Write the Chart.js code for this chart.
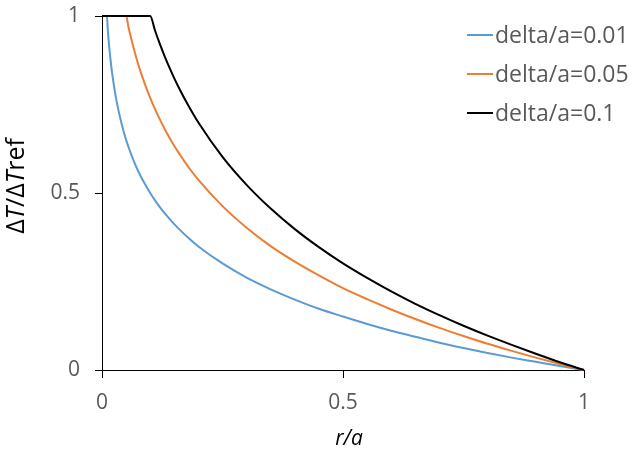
<!DOCTYPE html>
<html>
<head>
<meta charset="utf-8">
<script src="https://cdn.jsdelivr.net/npm/chart.js@4.4.1/dist/chart.umd.min.js"></script>
<style>
  html, body { margin: 0; padding: 0; background: #fff; }
  #wrap { width: 633px; height: 456px; }
</style>
</head>
<body>
<div id="wrap"><canvas id="chart"></canvas></div>
<script>
// r/a positions
const rOverA = [0, 0.01, 0.0125, 0.015, 0.02, 0.025, 0.03, 0.04, 0.05, 0.055, 0.06, 0.07, 0.08, 0.09,
  0.1, 0.11, 0.12, 0.13, 0.14, 0.15, 0.16, 0.18, 0.2, 0.25, 0.3, 0.35, 0.4, 0.45, 0.5,
  0.55, 0.6, 0.65, 0.7, 0.75, 0.8, 0.85, 0.9, 0.95, 1];

// dT/dTref for each delta/a
const delta001 = [1, 1, 0.952, 0.912, 0.849, 0.801, 0.761, 0.699, 0.650, 0.630, 0.611, 0.577, 0.548, 0.523,
  0.500, 0.479, 0.460, 0.443, 0.427, 0.412, 0.398, 0.372, 0.349, 0.301, 0.261, 0.228, 0.199, 0.173, 0.151,
  0.130, 0.111, 0.094, 0.077, 0.062, 0.048, 0.035, 0.023, 0.011, 0];
const delta005 = [1, 1, 1, 1, 1, 1, 1, 1, 1, 0.968, 0.939, 0.888, 0.843, 0.804,
  0.769, 0.737, 0.708, 0.681, 0.656, 0.633, 0.612, 0.572, 0.537, 0.463, 0.402, 0.350, 0.306, 0.267, 0.231,
  0.200, 0.171, 0.144, 0.119, 0.096, 0.074, 0.054, 0.035, 0.017, 0];
const delta01 = [1, 1, 1, 1, 1, 1, 1, 1, 1, 1, 1, 1, 1, 1,
  1, 0.959, 0.921, 0.886, 0.854, 0.824, 0.796, 0.745, 0.699, 0.602, 0.523, 0.456, 0.398, 0.347, 0.301,
  0.260, 0.222, 0.187, 0.155, 0.125, 0.097, 0.071, 0.046, 0.022, 0];

const seriesLabels = ['delta/a=0.01', 'delta/a=0.05', 'delta/a=0.1'];
const seriesColors = ['#5B9BD5', '#ED7D31', '#000000'];
const axisTicks = [0, 0.5, 1];
const tickText = ['0', '0.5', '1'];

const FONT = "'Open Sans', sans-serif";
const GREY = '#595959';

function toPoints(ys) {
  return rOverA.map((x, i) => ({ x: x, y: ys[i] }));
}

// later series drawn on top (black over orange over blue)
const datasets = [delta001, delta005, delta01].map((ys, i) => ({
  label: seriesLabels[i],
  data: toPoints(ys),
  borderColor: seriesColors[i],
  backgroundColor: seriesColors[i],
  borderWidth: 2,
  pointRadius: 0,
  showLine: true,
  cubicInterpolationMode: 'monotone',
  clip: false,
  order: 3 - i
}));

// legend, axis titles (y title has italic T)
const decorations = {
  id: 'decorations',
  afterDraw(chart) {
    const ctx = chart.ctx;
    ctx.save();
    seriesLabels.forEach((label, i) => {
      const y = 35 + i * 39;
      ctx.strokeStyle = seriesColors[i];
      ctx.lineWidth = 2;
      ctx.beginPath();
      ctx.moveTo(467, y);
      ctx.lineTo(493, y);
      ctx.stroke();
      ctx.fillStyle = GREY;
      ctx.font = '23px ' + FONT;
      ctx.textBaseline = 'middle';
      ctx.textAlign = 'left';
      ctx.fillText(label, 495, y + 1);
    });

    // x title
    ctx.fillStyle = '#000';
    ctx.font = 'italic 21px ' + FONT;
    ctx.textAlign = 'center';
    ctx.textBaseline = 'middle';
    ctx.fillText('r/a', 349, 439);

    // y title
    const parts = [['Δ', ''], ['T', 'italic '], ['/Δ', ''], ['T', 'italic '], ['ref', '']];
    ctx.translate(17, 186);
    ctx.rotate(-Math.PI / 2);
    ctx.textAlign = 'left';
    let total = 0;
    parts.forEach(p => { ctx.font = p[1] + '25px ' + FONT; total += ctx.measureText(p[0]).width; });
    let x = -total / 2;
    parts.forEach(p => {
      ctx.font = p[1] + '25px ' + FONT;
      ctx.fillText(p[0], x, 0);
      x += ctx.measureText(p[0]).width;
    });
    ctx.restore();
  }
};

new Chart(document.getElementById('chart').getContext('2d'), {
  type: 'scatter',
  data: { datasets: datasets },
  plugins: [decorations],
  options: {
    responsive: true,
    maintainAspectRatio: false,
    animation: false,
    layout: { padding: { top: 16, right: 49, left: 0, bottom: 0 } },
    plugins: {
      legend: { display: false },
      tooltip: { enabled: false }
    },
    scales: {
      x: {
        type: 'linear',
        min: 0,
        max: 1,
        afterBuildTicks: s => { s.ticks = axisTicks.map(v => ({ value: v })); },
        afterFit: s => { s.height = 86; s.paddingLeft = 0; s.paddingRight = 0; },
        border: { display: true, color: '#000', width: 1 },
        grid: { drawOnChartArea: false, drawTicks: true, tickLength: 8, color: '#000' },
        ticks: {
          color: GREY, font: { family: FONT, size: 21 }, padding: 12,
          callback: v => tickText[axisTicks.indexOf(v)]
        }
      },
      y: {
        type: 'linear',
        min: 0,
        max: 1,
        afterBuildTicks: s => { s.ticks = axisTicks.map(v => ({ value: v })); },
        afterFit: s => { s.width = 102; s.paddingTop = 0; s.paddingBottom = 0; },
        border: { display: true, color: '#000', width: 1 },
        grid: { drawOnChartArea: false, drawTicks: true, tickLength: 7, color: '#000' },
        ticks: {
          color: GREY, font: { family: FONT, size: 21 }, padding: 15,
          callback: v => tickText[axisTicks.indexOf(v)]
        }
      }
    }
  }
});
</script>
</body>
</html>
